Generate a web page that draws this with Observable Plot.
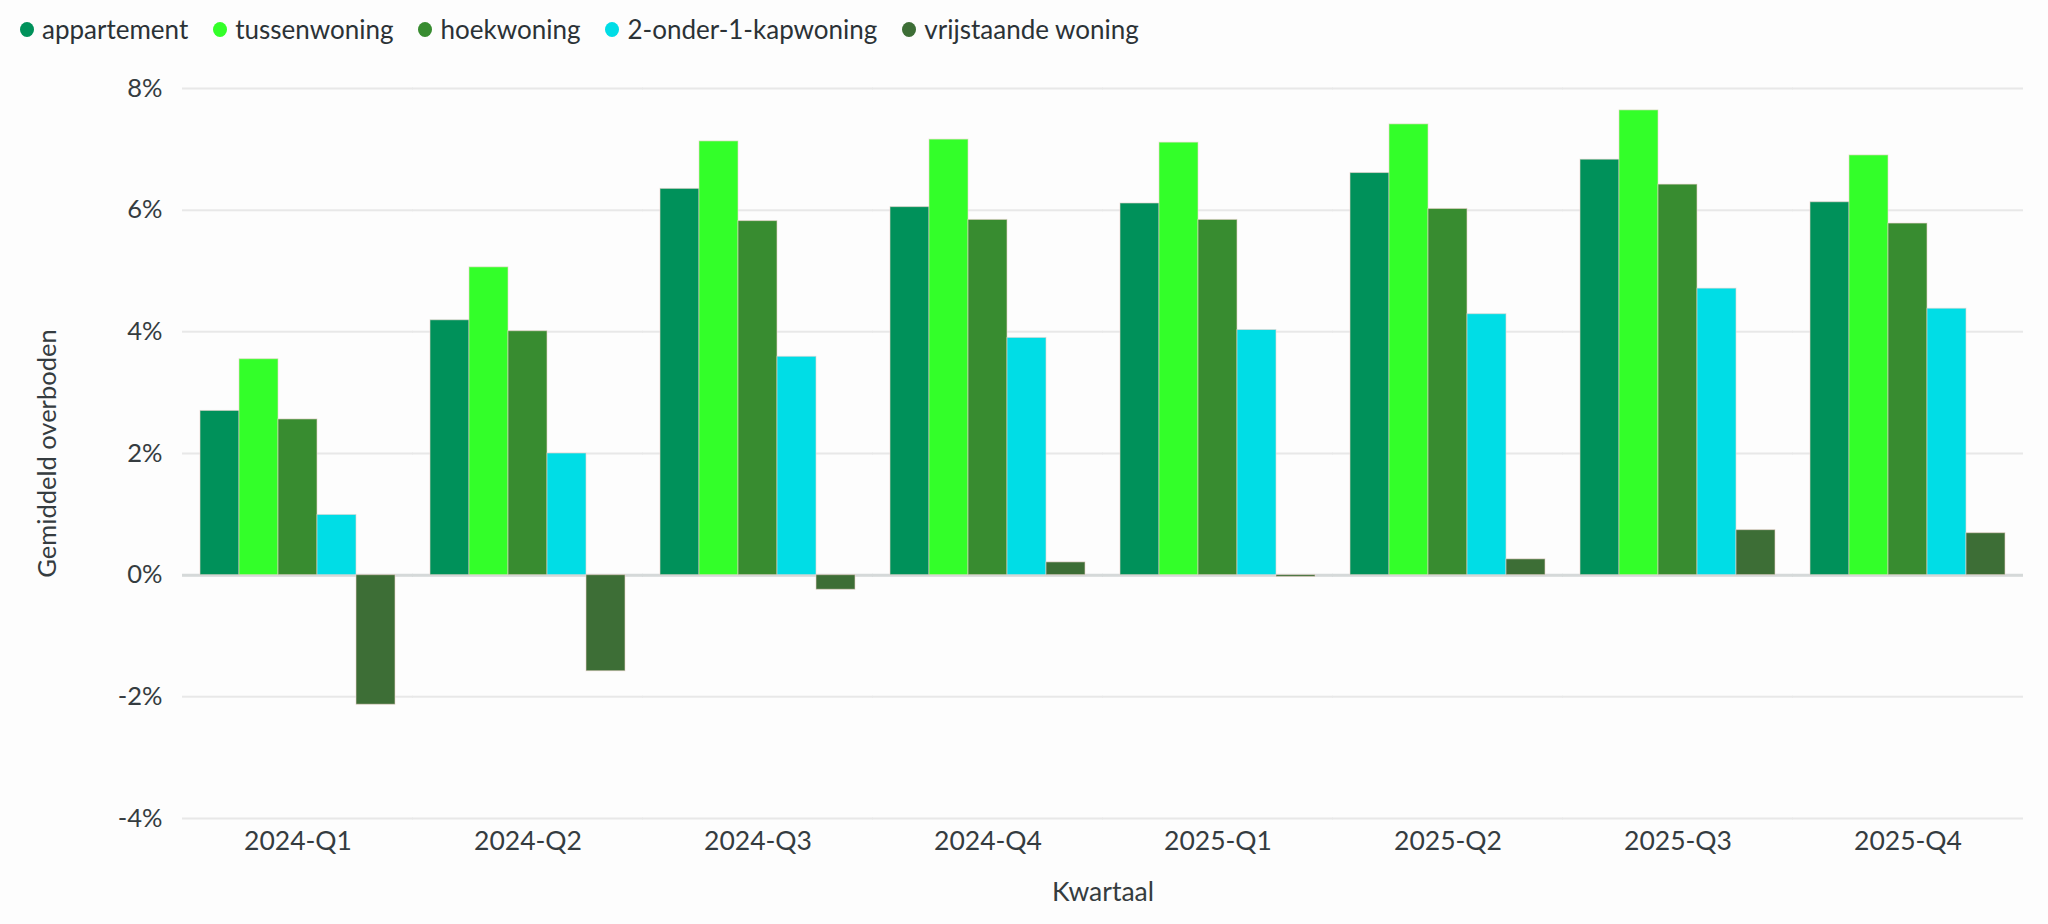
<!DOCTYPE html>
<html><head><meta charset="utf-8">
<script src="https://cdn.jsdelivr.net/npm/d3@7"></script>
<script src="https://cdn.jsdelivr.net/npm/@observablehq/plot@0.6"></script>
<style>
html,body{margin:0;padding:0;background:#fdfdfd;}
body{font-family:Lato,"Noto Sans",sans-serif;color:#2b3236;width:2048px;height:924px;overflow:hidden;}
#legend{height:58px;display:flex;align-items:center;padding-left:20px;font-size:26px;}
.item{display:flex;align-items:center;margin-right:25px;}
.dot{width:14px;height:15px;border-radius:50%;margin-right:8px;}
</style></head><body>
<div id="legend"></div>
<div id="chart"></div>
<script>
const quarters = ["2024-Q1","2024-Q2","2024-Q3","2024-Q4","2025-Q1","2025-Q2","2025-Q3","2025-Q4"];
const types = ["appartement","tussenwoning","hoekwoning","2-onder-1-kapwoning","vrijstaande woning"];
const colors = ["#00915a","#33ff29","#388c30","#00dde6","#3d6e36"];
const appartement = [2.70, 4.19, 6.35, 6.05, 6.11, 6.61, 6.83, 6.13];
const tussenwoning = [3.55, 5.06, 7.13, 7.16, 7.11, 7.41, 7.64, 6.90];
const hoekwoning = [2.56, 4.01, 5.82, 5.84, 5.84, 6.02, 6.42, 5.78];
const tweeOnderEenKap = [0.99, 2.00, 3.59, 3.90, 4.03, 4.29, 4.71, 4.38];
const vrijstaande = [-2.13, -1.58, -0.24, 0.21, -0.03, 0.26, 0.74, 0.69];
const yTicks = [-4, -2, 0, 2, 4, 6, 8];

const series = [appartement, tussenwoning, hoekwoning, tweeOnderEenKap, vrijstaande];
const data = [];
quarters.forEach((q, i) => types.forEach((t, j) => data.push({quarter: q, type: t, value: series[j][i]})));

const legend = document.getElementById("legend");
types.forEach((t, j) => {
  const it = document.createElement("div"); it.className = "item";
  const d = document.createElement("span"); d.className = "dot"; d.style.background = colors[j];
  const s = document.createElement("span"); s.textContent = t;
  it.appendChild(d); it.appendChild(s); legend.appendChild(it);
});

const chart = Plot.plot({
  width: 2048, height: 866,
  marginTop: 30, marginBottom: 106, marginLeft: 180, marginRight: 24,
  style: {fontFamily: "Lato, 'Noto Sans', sans-serif", fontSize: "25px", color: "#353c40", background: "#fdfdfd"},
  fx: {domain: quarters, paddingInner: 0.154, paddingOuter: 0.077, axis: null},
  x: {domain: types, padding: 0, axis: null},
  y: {domain: [-4, 8], axis: null},
  color: {domain: types, range: colors},
  marks: [
    Plot.ruleY(yTicks, {stroke: "#e8e8e8", strokeWidth: 2, insetLeft: -18, insetRight: -18}),
    Plot.ruleY([0], {stroke: "#d5d9d9", strokeWidth: 3, insetLeft: -18, insetRight: -18}),
    Plot.barY(data, {fx: "quarter", x: "type", y: "value", fill: "type", stroke: "#f0d6d0", strokeWidth: 1, strokeOpacity: 0.6}),
    Plot.axisY(yTicks, {tickSize: 0, tickPadding: 38, tickFormat: d => d + "%", label: "Gemiddeld overboden", labelArrow: "none", labelAnchor: "center", labelOffset: 163, fontSize: 25.5}),
    Plot.axisFx({anchor: "bottom", tickSize: 0, tickPadding: 13, label: "Kwartaal", labelArrow: "none", labelAnchor: "center", labelOffset: 82, fontSize: 26.5})
  ]
});
document.getElementById("chart").appendChild(chart);
</script>
</body></html>
